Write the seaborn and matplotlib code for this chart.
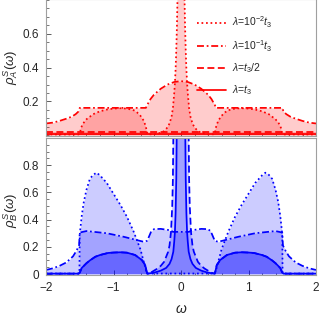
import matplotlib
matplotlib.use("Agg")
import matplotlib.pyplot as plt
import seaborn as sns
from matplotlib.ticker import FixedLocator, MultipleLocator

# ---------------- data ----------------
# panel A : rho_A^S(omega), red
A_dot_x = [-2.0, -1.52, -1.5, -1.48, -1.45, -1.4, -1.3, -1.2, -1.1, -1.0, -0.9, -0.8, -0.7, -0.65, -0.6,
           -0.55, -0.52, -0.5, -0.48, -0.4, -0.3, -0.25, -0.2, -0.17, -0.14, -0.12, -0.1, -0.09, -0.08,
           -0.07, -0.06, -0.05, -0.03, 0.0, 0.03, 0.05, 0.06, 0.07, 0.08, 0.09, 0.1, 0.12, 0.14, 0.17, 0.2,
           0.25, 0.3, 0.4, 0.48, 0.5, 0.52, 0.55, 0.6, 0.65, 0.7, 0.8, 0.9, 1.0, 1.1, 1.2, 1.3, 1.4, 1.45,
           1.48, 1.5, 1.52, 2.0]
A_dot_y = [0.005, 0.005, 0.01, 0.045, 0.07, 0.095, 0.125, 0.142, 0.152, 0.158, 0.16, 0.158, 0.148, 0.135, 0.115,
           0.085, 0.05, 0.01, 0.006, 0.006, 0.015, 0.025, 0.047, 0.07, 0.11, 0.16, 0.25, 0.31, 0.39,
           0.5, 0.65, 0.85, 2.0, 3.0, 2.0, 0.85, 0.65, 0.5, 0.39, 0.31, 0.25, 0.16, 0.11, 0.07, 0.047,
           0.025, 0.015, 0.006, 0.006, 0.01, 0.05, 0.085, 0.115, 0.135, 0.148, 0.158, 0.16, 0.158, 0.152, 0.142, 0.125, 0.095, 0.07,
           0.045, 0.01, 0.005, 0.005]

A_dd_x = [-2.0, -1.9, -1.8, -1.7, -1.62, -1.56, -1.52, -1.5, -1.0, -0.52, -0.5, -0.45, -0.4, -0.3, -0.2, -0.1,
          0.0, 0.1, 0.2, 0.3, 0.4, 0.45, 0.5, 0.52, 1.0, 1.5, 1.52, 1.56, 1.62, 1.7, 1.8, 1.9, 2.0]
A_dd_y = [0.07, 0.075, 0.085, 0.098, 0.11, 0.125, 0.14, 0.162, 0.162, 0.162, 0.18, 0.215, 0.24, 0.275, 0.3, 0.315,
          0.32, 0.315, 0.3, 0.275, 0.24, 0.215, 0.18, 0.162, 0.162, 0.162, 0.14, 0.125, 0.11, 0.098, 0.085, 0.075, 0.07]

A_dash_x = [-2.0, 2.0]
A_dash_y = [0.018, 0.018]
A_sol_x = [-2.0, 2.0]
A_sol_y = [0.005, 0.005]

# panel B : rho_B^S(omega), blue
B_dot_x = [-2.0, -1.505, -1.5, -1.49, -1.47, -1.44, -1.4, -1.35, -1.3, -1.25, -1.2, -1.1, -1.0, -0.9, -0.8,
           -0.7, -0.6, -0.52, -0.5, 0.5, 0.52, 0.6, 0.7, 0.8, 0.9, 1.0, 1.1, 1.2, 1.25, 1.3, 1.35, 1.4,
           1.44, 1.47, 1.49, 1.5, 1.505, 2.0]
B_dot_y = [0.004, 0.004, 0.29, 0.34, 0.43, 0.53, 0.62, 0.70, 0.73, 0.745, 0.725, 0.67, 0.59, 0.51, 0.42,
           0.31, 0.18, 0.03, 0.004, 0.004, 0.03, 0.18, 0.31, 0.42, 0.51, 0.59, 0.67, 0.725, 0.745, 0.73, 0.70, 0.62,
           0.53, 0.43, 0.34, 0.29, 0.004, 0.004]

B_dd_x = [-2.0, -1.9, -1.8, -1.7, -1.6, -1.55, -1.51, -1.5, -1.4, -1.1, -0.85, -0.6, -0.55, -0.5, -0.47, -0.44,
          -0.4, -0.3, -0.2, -0.15, -0.12, 0.0, 0.12, 0.15, 0.2, 0.3, 0.4, 0.44, 0.47, 0.5, 0.55, 0.6, 0.85,
          1.1, 1.4, 1.5, 1.51, 1.55, 1.6, 1.7, 1.8, 1.9, 2.0]
B_dd_y = [0.03, 0.042, 0.06, 0.085, 0.13, 0.17, 0.21, 0.305, 0.316, 0.3, 0.274, 0.243, 0.237, 0.245, 0.28, 0.315,
          0.33, 0.332, 0.325, 0.32, 0.31, 0.31, 0.31, 0.32, 0.325, 0.332, 0.33, 0.315, 0.28, 0.245, 0.237, 0.243, 0.274,
          0.3, 0.316, 0.305, 0.21, 0.17, 0.13, 0.085, 0.06, 0.042, 0.03]

B_dash_x = [-2.0, -1.52, -1.5, -1.47, -1.4, -1.35, -1.27, -1.2, -1.08, -1.0, -0.9, -0.8, -0.68, -0.58, -0.53,
            -0.51, -0.5, -0.45, -0.4, -0.35, -0.3, -0.25, -0.19, -0.17, -0.148, -0.13, -0.12, -0.114, -0.1,
            0.0, 0.1, 0.114, 0.12, 0.13, 0.148, 0.17, 0.19, 0.25, 0.3, 0.35, 0.4, 0.45, 0.5, 0.51, 0.53,
            0.58, 0.68, 0.8, 0.9, 1.0, 1.08, 1.2, 1.27, 1.35, 1.4, 1.47, 1.5, 1.52, 2.0]
B_dash_y = [0.003, 0.003, 0.01, 0.045, 0.08, 0.1, 0.127, 0.14, 0.155, 0.158, 0.16, 0.157, 0.14, 0.103, 0.066,
            0.02, 0.003, 0.01, 0.025, 0.04, 0.06, 0.09, 0.164, 0.21, 0.31, 0.5, 0.7, 1.0, 1.5,
            5.0, 1.5, 1.0, 0.7, 0.5, 0.31, 0.21, 0.164, 0.09, 0.06, 0.04, 0.025, 0.01, 0.003, 0.02, 0.066,
            0.103, 0.14, 0.157, 0.16, 0.158, 0.155, 0.14, 0.127, 0.1, 0.08, 0.045, 0.01, 0.003, 0.003]

B_sol_x = [-2.0, -1.52, -1.5, -1.47, -1.4, -1.35, -1.27, -1.2, -1.08, -1.0, -0.9, -0.8, -0.68, -0.58, -0.53,
           -0.51, -0.5, -0.4, -0.3, -0.22, -0.17, -0.14, -0.114, -0.1, -0.09, -0.08, -0.07, -0.064, -0.05,
           0.0, 0.05, 0.064, 0.07, 0.08, 0.09, 0.1, 0.114, 0.14, 0.17, 0.22, 0.3, 0.4, 0.5, 0.51, 0.53,
           0.58, 0.68, 0.8, 0.9, 1.0, 1.08, 1.2, 1.27, 1.35, 1.4, 1.47, 1.5, 1.52, 2.0]
B_sol_y = [0.003, 0.003, 0.01, 0.045, 0.08, 0.1, 0.127, 0.14, 0.155, 0.158, 0.16, 0.157, 0.14, 0.103, 0.066,
           0.02, 0.003, 0.01, 0.025, 0.045, 0.075, 0.11, 0.164, 0.24, 0.31, 0.45, 0.7, 1.0, 1.6,
           5.0, 1.6, 1.0, 0.7, 0.45, 0.31, 0.24, 0.164, 0.11, 0.075, 0.045, 0.025, 0.01, 0.003, 0.02, 0.066,
           0.103, 0.14, 0.157, 0.16, 0.158, 0.155, 0.14, 0.127, 0.1, 0.08, 0.045, 0.01, 0.003, 0.003]

labels = [r"$\lambda$=10$^{-2}$$t_3$", r"$\lambda$=10$^{-1}$$t_3$", r"$\lambda$=$t_3$/2", r"$\lambda$=$t_3$"]
x_ticks = [-2, -1, 0, 1, 2]
x_ticklabels = ["\u22122", "\u22121", "0", "1", "2"]
A_yticks = [0.2, 0.4, 0.6]
A_yticklabels = ["0.2", "0.4", "0.6"]
B_yticks = [0, 0.2, 0.4, 0.6, 0.8]
B_yticklabels = ["0", "0.2", "0.4", "0.6", "0.8"]

# ---------------- style ----------------
sns.set_theme(style="ticks")
plt.rcParams["font.family"] = ["Liberation Sans", "DejaVu Sans"]
plt.rcParams["mathtext.fontset"] = "custom"
plt.rcParams["mathtext.rm"] = "Liberation Sans"
plt.rcParams["mathtext.it"] = "Liberation Sans:italic"

RED = "#ff0000"
BLUE = "#0000ff"
styles = [(0, (1.0, 1.6)), (0, (4.0, 1.6, 1.0, 1.6)), (0, (4.0, 2.0)), "-"]
LW = 1.25

fig = plt.figure(figsize=(3.21, 3.16), dpi=100)
W, H = 321.0, 316.0
ax1 = fig.add_axes([46 / W, 1 - 136 / H, 270 / W, 137 / H])
ax2 = fig.add_axes([46 / W, 1 - 275 / H, 270 / W, 137 / H])


def draw(ax, curves, color):
    handles = []
    for (xs, ys), ls in zip(curves, styles):
        ax.fill_between(xs, 0, ys, color=color, alpha=0.2, lw=0)
    for (xs, ys), ls in zip(curves, styles):
        sns.lineplot(x=xs, y=ys, ax=ax, color=color, linestyle=ls, linewidth=LW,
                     estimator=None, sort=False, legend=False)
        handles.append(ax.lines[-1])
    return handles


hA = draw(ax1, [(A_dot_x, A_dot_y), (A_dd_x, A_dd_y), (A_dash_x, A_dash_y), (A_sol_x, A_sol_y)], RED)
draw(ax2, [(B_dot_x, B_dot_y), (B_dd_x, B_dd_y), (B_dash_x, B_dash_y), (B_sol_x, B_sol_y)], BLUE)

for ax in (ax1, ax2):
    ax.set_xlim(-2, 2)
    ax.xaxis.set_major_locator(FixedLocator(x_ticks))
    ax.xaxis.set_minor_locator(MultipleLocator(0.2))
    ax.yaxis.set_minor_locator(MultipleLocator(0.05))
    ax.tick_params(which="major", direction="in", length=3.5, width=0.6, color="#444444",
                   labelsize=8.5, pad=5)
    ax.tick_params(which="minor", direction="in", length=1.8, width=0.5, color="#444444")
    for s in ax.spines.values():
        s.set_color("#a0a0a0")
        s.set_linewidth(0.8)

ax1.set_ylim(-0.004, 0.805)
ax1.set_yticks(A_yticks)
ax1.set_yticklabels(A_yticklabels)
ax1.set_xticklabels([])
ax1.set_xlabel("")
ax1.set_ylabel(r"$\rho_A^S(\omega)$", fontsize=9.5)
ax1.yaxis.set_label_coords(-0.097, 0.5)

ax2.set_ylim(-0.007, 1.0)
ax2.set_yticks(B_yticks)
ax2.set_yticklabels(B_yticklabels)
ax2.set_xticklabels(x_ticklabels)
ax2.set_ylabel(r"$\rho_B^S(\omega)$", fontsize=9.5)
ax2.yaxis.set_label_coords(-0.097, 0.47)
ax2.set_xlabel(r"$\omega$", fontsize=10, labelpad=6)

ax1.legend(hA, labels, loc="upper left", bbox_to_anchor=(0.56, 0.885), frameon=False,
           fontsize=7.5, handlelength=2.8, handletextpad=0.5, labelspacing=0.75,
           borderpad=0, borderaxespad=0)

fig.savefig("out.png", dpi=100)
